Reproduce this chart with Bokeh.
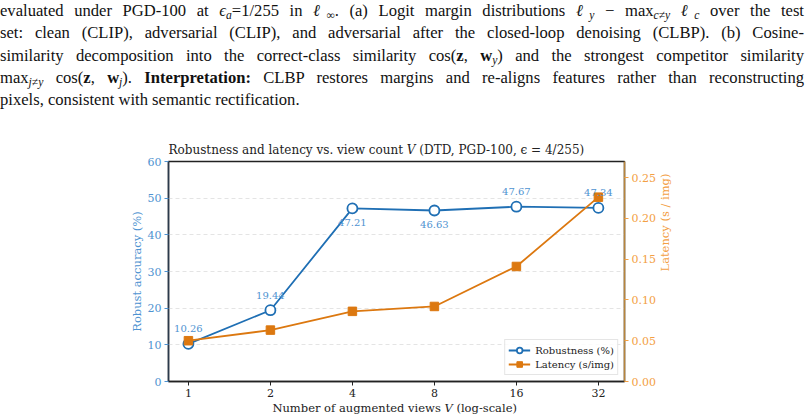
import math
from bokeh.plotting import figure
from bokeh.models import (Range1d, LinearAxis, FixedTicker, Legend, LegendItem, Div,
                          PrintfTickFormatter, ColumnDataSource)
from bokeh.layouts import column
from bokeh.core.properties import value
from bokeh.embed import file_html
from bokeh.resources import INLINE

# ---- data ----
views = [1, 2, 4, 8, 16, 32]
robustness = [10.26, 19.44, 47.21, 46.63, 47.67, 47.34]
latency = [0.050, 0.063, 0.086, 0.092, 0.141, 0.226]
rob_labels = ["10.26", "19.44", "47.21", "46.63", "47.67", "47.34"]
label_side = ["above", "above", "below", "below", "above", "above"]
left_ticks = [0, 10, 20, 30, 40, 50, 60]
right_ticks = [0.0, 0.05, 0.10, 0.15, 0.20, 0.25]

BLUE = "#1f6fb4"
BLUE_TXT = "#4f93d1"
ORANGE = "#dc7810"
ORANGE_TXT = "#f3a044"
SERIF = "DejaVu Serif"

ELL = '<span class="ell">&#8467;</span>'
caption_lines = [
    f'evaluated under PGD-100 at <i>&#1013;<sub>a</sub></i>=1/255 in {ELL}<sub>&#8734;</sub>. (a) Logit margin distributions {ELL}<sub><i>y</i></sub> &#8722; max<sub><i>c</i>&#8800;<i>y</i></sub> {ELL}<sub><i>c</i></sub> over the test',
    'set: clean (CLIP), adversarial (CLIP), and adversarial after the closed-loop denoising (CLBP). (b) Cosine-',
    'similarity decomposition into the correct-class similarity cos(<b>z</b>, <b>w</b><sub><i>y</i></sub>) and the strongest competitor similarity',
    'max<sub><i>j</i>&#8800;<i>y</i></sub> cos(<b>z</b>, <b>w</b><sub><i>j</i></sub>). <b>Interpretation:</b> CLBP restores margins and re-aligns features rather than reconstructing',
    'pixels, consistent with semantic rectification.',
]

style = """<style>
.cap {font-family:'Liberation Serif'; font-size:16.6px; line-height:22.3px; color:#111; width:804px;}
.ln {text-align:justify; text-align-last:justify; white-space:nowrap;}
.last {text-align:left;}
.ell {font-style:italic;}
sub {font-size:0.7em; line-height:0; vertical-align:-0.25em;}
</style>"""
html = style + '<div class="cap">' + "".join(
    f'<div class="{"ln" if i < len(caption_lines) - 1 else "last"}">{t}</div>'
    for i, t in enumerate(caption_lines)) + "</div>"
div = Div(text=html, width=806, height=120, margin=0)

p = figure(width=806, height=300, x_axis_type="log",
           x_range=Range1d(0.845, 39.9), y_range=Range1d(0, 60),
           output_backend="svg", toolbar_location=None,
           min_border_left=168, min_border_right=182, min_border_top=41, min_border_bottom=39,
           margin=0)
p.extra_y_ranges = {"lat": Range1d(0, 0.2697)}

p.title.text = "Robustness and latency vs. view count \U0001D449  (DTD, PGD-100, \u03f5 = 4/255)"
p.title.text_font = SERIF
p.title.text_font_size = "12px"
p.title.text_font_style = "normal"
p.title.text_color = "#222222"

p.outline_line_color = "#222222"
p.outline_line_width = 1.5
p.xgrid.visible = False
p.ygrid.ticker = FixedTicker(ticks=left_ticks)
p.ygrid.grid_line_color = "#dddddd"
p.ygrid.grid_line_dash = "4 3"
p.ygrid.grid_line_width = 0.8

# bottom axis
xa = p.xaxis[0]
xa.ticker = FixedTicker(ticks=views)
xa.formatter = PrintfTickFormatter(format="%d")
xa.minor_tick_line_color = None
xa.axis_label = "Number of augmented views \U0001D449  (log-scale)"
xa.axis_label_text_font = SERIF
xa.axis_label_text_font_size = "11.5px"
xa.axis_label_text_font_style = "normal"
xa.axis_label_text_color = "#222222"
xa.major_label_text_font = SERIF
xa.major_label_text_font_size = "11px"
xa.major_label_text_color = "#222222"
xa.axis_line_color = "#222222"
xa.axis_line_width = 1.5
xa.major_tick_line_color = "#222222"
xa.major_tick_out = 4
xa.major_tick_in = 0
xa.major_label_standoff = 3
xa.axis_label_standoff = 1

# left axis
ya = p.yaxis[0]
ya.ticker = FixedTicker(ticks=left_ticks)
ya.minor_tick_line_color = None
ya.axis_label = "Robust accuracy (%)"
ya.axis_label_text_font = SERIF
ya.axis_label_text_font_size = "11.5px"
ya.axis_label_text_font_style = "normal"
ya.axis_label_text_color = BLUE_TXT
ya.major_label_text_font = SERIF
ya.major_label_text_font_size = "11px"
ya.major_label_text_color = BLUE_TXT
ya.axis_line_color = "#2b3a4c"
ya.axis_line_width = 1.5
ya.major_tick_line_color = BLUE_TXT
ya.major_tick_out = 4
ya.major_tick_in = 0
ya.major_label_standoff = 3
ya.axis_label_standoff = 1

# right axis
ra = LinearAxis(y_range_name="lat", axis_label="Latency (s / img)",
                ticker=FixedTicker(ticks=right_ticks),
                formatter=PrintfTickFormatter(format="%.2f"))
ra.minor_tick_line_color = None
ra.axis_label_orientation = math.pi / 2
ra.axis_label_text_font = SERIF
ra.axis_label_text_font_size = "11.5px"
ra.axis_label_text_font_style = "normal"
ra.axis_label_text_color = ORANGE_TXT
ra.major_label_text_font = SERIF
ra.major_label_text_font_size = "11px"
ra.major_label_text_color = ORANGE_TXT
ra.axis_line_color = "#b8853c"
ra.axis_line_width = 1.5
ra.major_tick_line_color = ORANGE_TXT
ra.major_tick_out = 4
ra.major_tick_in = 0
ra.major_label_standoff = 3
ra.axis_label_standoff = 6
p.add_layout(ra, "right")

# series
r_line = p.line(views, robustness, line_color=BLUE, line_width=1.8)
r_pts = p.scatter(views, robustness, marker="circle", size=10, fill_color="white",
                  line_color=BLUE, line_width=1.8)
l_line = p.line(views, latency, line_color=ORANGE, line_width=1.8, y_range_name="lat")
l_pts = p.scatter(views, latency, marker="square", size=8.5, fill_color=ORANGE,
                  line_color=ORANGE, y_range_name="lat")

offsets = [-15 if s == "above" else 14 for s in label_side]
src = ColumnDataSource(dict(x=views, y=robustness, t=rob_labels, dy=offsets))
p.text(x="x", y="y", text="t", y_offset="dy", source=src, text_align="center",
       text_baseline="middle", text_font=value(SERIF), text_font_size="10px",
       text_color=BLUE_TXT)

legend = Legend(items=[LegendItem(label="Robustness (%)", renderers=[r_line, r_pts]),
                       LegendItem(label="Latency (s/img)", renderers=[l_line, l_pts])],
                location="bottom_right")
legend.label_text_font = SERIF
legend.label_text_font_size = "10px"
legend.label_text_color = "#222222"
legend.border_line_color = "#cccccc"
legend.border_line_width = 1
legend.background_fill_alpha = 0.85
legend.margin = 6
legend.padding = 3
legend.spacing = 0
legend.glyph_width = 22
legend.glyph_height = 14
legend.label_standoff = 5
legend.label_height = 14
p.add_layout(legend)

layout = column(div, p, spacing=0, margin=0)
open("out.html", "w").write(file_html(layout, INLINE))
